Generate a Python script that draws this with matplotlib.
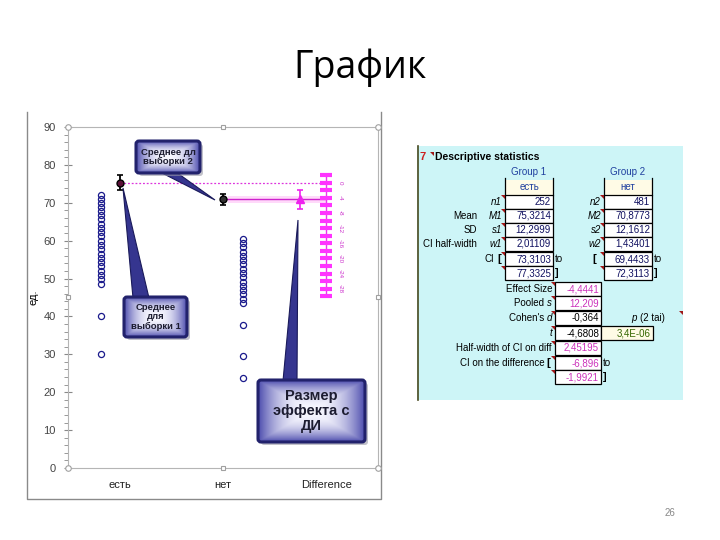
import numpy as np
import matplotlib
matplotlib.use('Agg')
import matplotlib.pyplot as plt
from matplotlib.patches import FancyBboxPatch, Polygon, Rectangle

plt.rcParams['font.family'] = ['Liberation Sans', 'DejaVu Sans']

# --- данные графика ---
categories = ['есть', 'нет', 'Difference']
group1_points = [72, 71, 70, 69, 67.8, 66.7, 65.6, 64.5, 63.4, 62.2, 61.1, 60, 58.9,
                 57.8, 56.6, 55.5, 54.4, 53.2, 52.1, 50.9, 49.8, 48.6, 40, 30]
group2_points = [60.5, 59.4, 58.3, 57.1, 56, 54.9, 53.8, 52.6, 51.5, 50.4, 49.2,
                 48.1, 47, 45.8, 44.7, 43.6, 37.7, 29.6, 23.7]
mean1, ci1 = 75.3214, (73.3103, 77.3325)
mean2, ci2 = 70.8773, (69.4433, 72.3113)
diff, diff_ci = -4.4441, (-6.896, -1.9921)
band = (69.9, 71.8)
diff_ticks = [2, 0, -2, -4, -6, -8, -10, -12, -14, -16, -18, -20, -22, -24, -26, -28, -30]
diff_tick_labels = [0, -4, -8, -12, -16, -20, -24, -28]

# --- данные таблицы ---
g1_values = ['252', '75,3214', '12,2999', '2,01109', '73,3103', '77,3325']
g2_values = ['481', '70,8773', '12,1612', '1,43401', '69,4433', '72,3113']
row_prefix = ['', 'Mean', 'SD', 'CI half-width', 'CI', '']
g1_vars = ['n1', 'M1', 's1', 'w1', '', '']
g2_vars = ['n2', 'M2', 's2', 'w2', '', '']
es_labels = ['Effect Size', 'Pooled ', "Cohen's ", '', 'Half-width of CI on diff', 'CI on the difference', '']
es_italic = ['', 's', 'd', 't', '', '', '']
es_values = ['-4,4441', '12,209', '-0,364', '-4,6808', '2,45195', '-6,896', '-1,9921']
es_colors = ['#cc33bb', '#cc33bb', 'black', 'black', '#cc33bb', '#cc33bb', '#cc33bb']
p_value = '3,4E-06'

fig = plt.figure(figsize=(7.2, 5.4), dpi=100)

# фон: рамка диаграммы
bg = fig.add_axes([0, 0, 1, 1], zorder=0)
bg.set_xlim(0, 720)
bg.set_ylim(540, 0)
bg.axis('off')
bg.plot([27, 27, 381, 381], [112, 499, 499, 112], color='#8a8a8a', lw=1)

# --- график ---
ax = fig.add_axes([68 / 720, 1 - 468 / 540, 310 / 720, 341 / 540], zorder=1)
ax.set_xlim(0.5, 3.5)
ax.set_ylim(0, 90)

ax.plot(np.full(len(group1_points), 0.82), group1_points, 'o', mfc='none',
        mec='#1a1a8c', ms=4.4, mew=0.9)
ax.plot(np.full(len(group2_points), 2.19), group2_points, 'o', mfc='none',
        mec='#1a1a8c', ms=4.4, mew=0.9)

ax.fill_between([2.05, 3], band[0], band[1], color='#ffd9fa', lw=0)
ax.plot([1, 3], [mean1, mean1], ls=(0, (1.5, 1.5)), color='#dd33dd', lw=0.9)
ax.plot([2, 3], [mean2, mean2], color='#cc22cc', lw=1)

ax.errorbar([1], [mean1], yerr=[[mean1 - ci1[0]], [ci1[1] - mean1]], fmt='o',
            color='black', mfc='#5a1038', ms=5, capsize=2.5, elinewidth=1.3, capthick=1.2)
ax.errorbar([2], [mean2], yerr=[[mean2 - ci2[0]], [ci2[1] - mean2]], fmt='o',
            color='black', mfc='#303030', ms=5, capsize=2.5, elinewidth=1.3, capthick=1.2)
ax.errorbar([2.75], [mean1 + diff], yerr=[[diff - diff_ci[0]], [diff_ci[1] - diff]],
            fmt='^', color='#ee22ee', ms=6, capsize=2.5, elinewidth=1.2, capthick=1.2)

# плавающая ось разности
dt = np.array(diff_ticks)
ax.plot([3, 3], [mean1 + dt[0], mean1 + dt[-1]], color='#ee33ee', lw=1)
ax.plot(np.full(len(dt), 3), mean1 + dt, ls='none', marker='_', ms=8, mew=3, color='#ff33ff')
for t in diff_tick_labels:
    ax.text(3.13, mean1 + t, str(t), rotation=-90, fontsize=4.5, color='#cc33cc',
            ha='center', va='center')

ax.set_yticks(range(0, 91, 10))
ax.set_yticks(np.arange(0, 91, 2), minor=True)
ax.tick_params(axis='y', which='major', direction='inout', length=6, color='#888888',
               labelcolor='#444444', labelsize=8, pad=6)
ax.tick_params(axis='y', which='minor', direction='out', length=3, color='#888888')
ax.set_xticks([1, 2, 3])
ax.set_xticklabels(categories)
ax.tick_params(axis='x', length=0, labelsize=8, pad=9, labelcolor='#222222')
for s in ax.spines.values():
    s.set_color('#b5b5b5')
    s.set_linewidth(0.8)
ax.set_ylabel('ед.', fontsize=8)
ax.yaxis.set_label_coords(-0.095, 0.5)

# --- наложение: выноски, таблица, заголовок ---
ov = fig.add_axes([0, 0, 1, 1], zorder=5)
ov.patch.set_alpha(0)
ov.axis('off')

# маркеры выделения диаграммы
ov.plot([68, 378, 378, 68], [127, 127, 468, 468], 'o', mfc='white', mec='#a0a0a0', ms=4, mew=0.8)
ov.plot([223, 223, 68, 378], [127, 468, 297, 297], 's', mfc='white', mec='#a0a0a0', ms=3.5, mew=0.8)


def callout(x0, y0, x1, y1, text, fs, tip, base):
    w, h = x1 - x0, y1 - y0
    ov.add_patch(Polygon([base[0], base[1], tip], closed=True, fc='#35358f',
                         ec='#1a1a5a', lw=0.8, zorder=2))
    ov.add_patch(FancyBboxPatch((x0 + 3, y0 + 3), w, h, boxstyle='round,pad=0,rounding_size=3',
                                fc='#9a9aa8', ec='none', alpha=0.6, zorder=3))
    box = FancyBboxPatch((x0, y0), w, h, boxstyle='round,pad=0,rounding_size=3',
                         fc='none', ec='#22226c', lw=2.2, zorder=5)
    ov.add_patch(box)
    yy, xx = np.mgrid[0:1:80j, 0:1:120j]
    d = np.maximum(np.abs(xx - 0.5) * 2, np.abs(yy - 0.5) * 2) ** 2.2
    c0 = np.array([0.97, 0.97, 1.0])
    c1 = np.array([0.30, 0.30, 0.68])
    img = c0 + (c1 - c0) * d[..., None]
    im = ov.imshow(img, extent=(x0, x1, y1, y0), origin='upper', aspect='auto',
                   zorder=4, interpolation='bilinear')
    im.set_clip_path(box)
    ov.text((x0 + x1) / 2, (y0 + y1) / 2, text, fontsize=fs, fontweight='bold',
            color='#1c1c30', ha='center', va='center', linespacing=1.05, zorder=6)


callout(136, 141, 200, 173, 'Среднее дл\nвыборки 2', 6.8, (215, 200), [(160, 172), (176, 172)])
callout(124, 297, 187, 337, 'Среднее\nдля\nвыборки 1', 6.8, (123, 188), [(133, 298), (149, 298)])
callout(258, 380, 365, 442, 'Размер\nэффекта с\nДИ', 10.5, (298, 220), [(283, 381), (297, 381)])

# таблица
ov.add_patch(Rectangle((417, 146), 266, 254, fc='#cdf5f7', ec='none', zorder=1))
ov.plot([418, 418], [146, 400], color='#4a4a20', lw=1.2, zorder=2)

fs = 7
ov.text(420, 157, '7', color='#cc2020', fontsize=8, fontweight='bold', va='center', zorder=3)
ov.text(435, 157, 'Descriptive statistics', color='black', fontsize=7.5, fontweight='bold',
        va='center', zorder=3)
ov.text(529, 172, 'Group 1', color='#1f3f9f', fontsize=fs, ha='center', va='center', zorder=3)
ov.text(628, 172, 'Group 2', color='#1f3f9f', fontsize=fs, ha='center', va='center', zorder=3)


def red_mark(x, y):
    ov.add_patch(Polygon([(x - 4, y + 0.5), (x, y + 0.5), (x, y + 4.5)], closed=True,
                         fc='#a01818', ec='none', zorder=6))


def cell(x0, x1, yc, text, color, fc='white', border=True):
    ov.add_patch(Rectangle((x0, yc - 7.2), x1 - x0, 14.4, fc=fc,
                           ec='black' if border else 'none', lw=0.9, zorder=3))
    ov.text(x1 - 2, yc, text, color=color, fontsize=fs, ha='right', va='center', zorder=4)


rows = [202, 216, 230, 244, 259, 273]
# верхние ячейки со значениями групп
for gx0, gx1, name in [(505, 553, 'есть'), (604, 652, 'нет')]:
    ov.add_patch(Rectangle((gx0, 180), gx1 - gx0, 15, fc='#fffbe6', ec='none', zorder=3))
    ov.plot([gx0, gx0], [178, 195], color='black', lw=0.9, zorder=4)
    ov.plot([gx1, gx1], [178, 195], color='black', lw=0.9, zorder=4)
    ov.text((gx0 + gx1) / 2, 187, name, color='#1f3f9f', fontsize=fs, ha='center',
            va='center', zorder=4)

for i, yc in enumerate(rows):
    cell(505, 553, yc, g1_values[i], '#101060')
    cell(604, 652, yc, g2_values[i], '#101060')
    if row_prefix[i] == 'CI':
        ov.text(494, yc, 'CI', fontsize=fs, ha='right', va='center', zorder=4)
        ov.text(497, yc, '[', fontsize=8, fontweight='bold', va='center', zorder=4)
        ov.text(592, yc, '[', fontsize=8, fontweight='bold', va='center', zorder=4)
        ov.text(555, yc, 'to', fontsize=fs, va='center', zorder=4)
        ov.text(654, yc, 'to', fontsize=fs, va='center', zorder=4)
    elif row_prefix[i]:
        ov.text(477, yc, row_prefix[i], fontsize=fs, ha='right', va='center', zorder=4)
    if g1_vars[i]:
        ov.text(502, yc, g1_vars[i], fontsize=fs, style='italic', ha='right', va='center', zorder=4)
        ov.text(601, yc, g2_vars[i], fontsize=fs, style='italic', ha='right', va='center', zorder=4)
    if i == 5:
        ov.text(555, yc, ']', fontsize=8, fontweight='bold', va='center', zorder=4)
        ov.text(654, yc, ']', fontsize=8, fontweight='bold', va='center', zorder=4)
    red_mark(505, yc - 7.2)
    red_mark(604, yc - 7.2)

es_rows = [289, 303, 318, 333, 348, 363, 377]
for i, yc in enumerate(es_rows):
    cell(555, 601, yc, es_values[i], es_colors[i])
    xr = 552
    if es_italic[i]:
        ov.text(xr, yc, es_italic[i], fontsize=fs, style='italic', ha='right', va='center', zorder=4)
        xr -= 5
    if es_labels[i]:
        if i == 5:
            ov.text(546, yc, '[', fontsize=8, fontweight='bold', va='center', zorder=4)
            ov.text(545, yc, es_labels[i], fontsize=fs, ha='right', va='center', zorder=4)
        else:
            ov.text(xr, yc, es_labels[i], fontsize=fs, ha='right', va='center', zorder=4)
    red_mark(555, yc - 7.2)
ov.text(603, es_rows[5], 'to', fontsize=fs, va='center', zorder=4)
ov.text(603, es_rows[6], ']', fontsize=8, fontweight='bold', va='center', zorder=4)

ov.text(665, es_rows[2], '(2 tai)', fontsize=fs, ha='right', va='center', zorder=4)
ov.text(637, es_rows[2], 'p', fontsize=fs, style='italic', ha='right', va='center', zorder=4)
cell(601, 653, es_rows[3], p_value, '#336600', fc='#fffbe6')
red_mark(683, es_rows[2] - 8)
red_mark(434, 151)

ov.set_xlim(0, 720)
ov.set_ylim(540, 0)

# заголовок и номер слайда
fig.text(0.5, 1 - 68 / 540, 'График', fontsize=27, ha='center', va='center',
         family=['Open Sans', 'DejaVu Sans'], color='black')
fig.text(670 / 720, 1 - 513 / 540, '26', fontsize=7, color='#888888', ha='center', va='center')

fig.savefig('out.png', dpi=100)
